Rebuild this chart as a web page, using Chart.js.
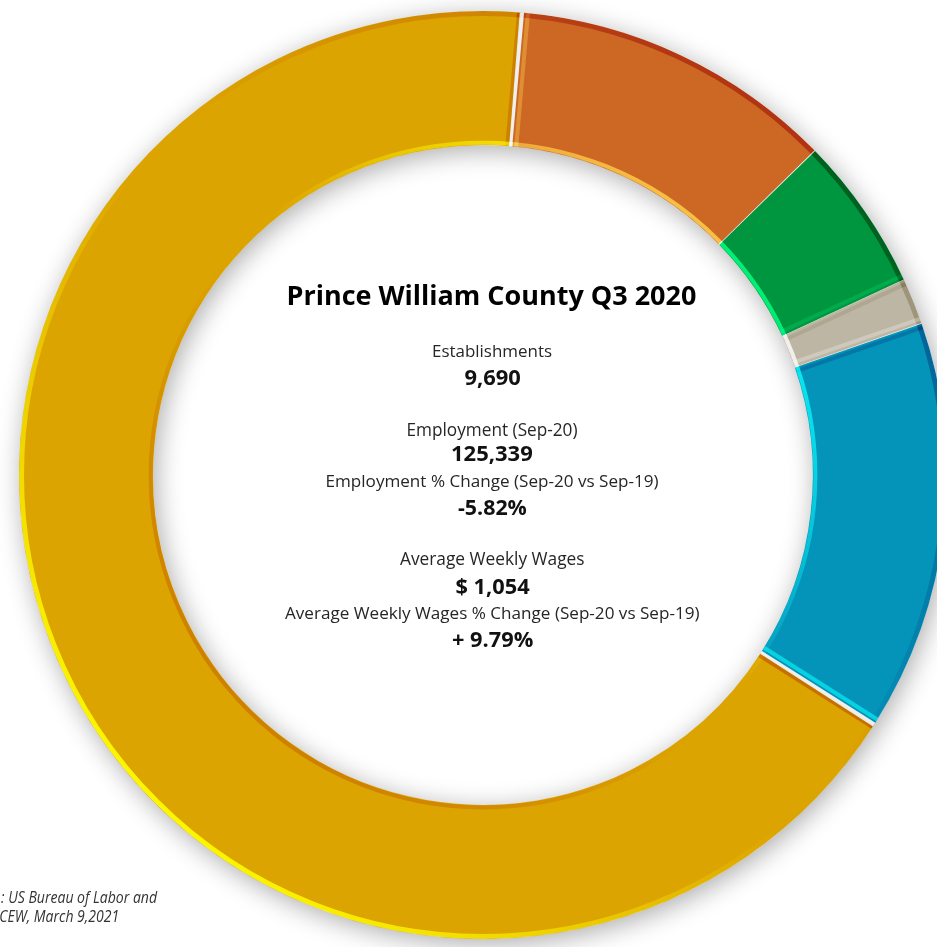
<!DOCTYPE html>
<html>
<head>
<meta charset="utf-8">
<title>Prince William County Q3 2020</title>
<script src="https://cdn.jsdelivr.net/npm/chart.js@4.4.1/dist/chart.umd.min.js"></script>
<style>
  html, body { margin: 0; padding: 0; background: #fff; overflow: hidden; }
  #wrap { position: relative; width: 937px; height: 947px; overflow: hidden; }
  #ring { position: absolute; left: 0; top: 0; }
</style>
</head>
<body>
<div id="wrap"><canvas id="ring" width="960" height="960"></canvas></div>
<script>
// slices clockwise from just right of 12 o'clock, share of the ring in %
const segments = ['Segment 1', 'Segment 2', 'Segment 3', 'Segment 4', 'Segment 5'];
const shares = [11.3, 5.4, 1.6, 14.3, 67.4];
const colors = ['#CC6724', '#00953F', '#BDB6A4', '#0494B9', '#DCA400'];

const title = 'Prince William County Q3 2020';
const statLabels = ['Establishments', 'Employment (Sep-20)', 'Employment % Change (Sep-20 vs Sep-19)',
                    'Average Weekly Wages', 'Average Weekly Wages % Change (Sep-20 vs Sep-19)'];
const statValues = ['9,690', '125,339', '-5.82%', '$ 1,054', '+ 9.79%'];
const sourceLines = [': US Bureau of Labor and', 'CEW, March 9,2021'];

// text layout inside the hole: baseline y and ink width of each line
const centerLines = [title];
statLabels.forEach((l, i) => centerLines.push(l, statValues[i]));
const lineBase = [305, 357, 385, 436, 461, 487, 515, 565, 594, 619, 647];
const lineWidth = [407, 118, 55, 169, 80, 331, 68, 184, 73, 414, 80];
const FAMILY = '"Open Sans", "Noto Sans", sans-serif';

// font size that makes the text's ink as wide as w
function fitFont(ctx, text, prefix, w) {
  ctx.font = prefix + ' 100px ' + FAMILY;
  const m = ctx.measureText(text);
  const size = 100 * w / (m.actualBoundingBoxLeft + m.actualBoundingBoxRight);
  return prefix + ' ' + size.toFixed(2) + 'px ' + FAMILY;
}

function drawInk(ctx, text, left, y) {
  const m = ctx.measureText(text);
  ctx.fillText(text, left + m.actualBoundingBoxLeft, y);
}

// light comes from the lower left
const LIGHT = [-Math.SQRT1_2, Math.SQRT1_2];

function edgeStroke(n, alpha) {
  const k = n[0] * LIGHT[0] + n[1] * LIGHT[1];
  return k > 0 ? 'rgba(255,255,255,' + (k * alpha).toFixed(3) + ')'
               : 'rgba(0,0,0,' + (-k * alpha).toFixed(3) + ')';
}

const ringFx = {
  id: 'ringFx',
  afterDatasetsDraw(chart) {
    const ctx = chart.ctx;
    const arcs = chart.getDatasetMeta(0).data;
    const half = (chart.data.datasets[0].spacing || 0) / 2;
    const x = arcs[0].x, y = arcs[0].y;
    const R = arcs[0].outerRadius + half, r = arcs[0].innerRadius + half;
    const ring = () => {
      ctx.beginPath();
      ctx.arc(x, y, R, 0, Math.PI * 2);
      ctx.arc(x, y, r, Math.PI * 2, 0, true);
    };
    ctx.save();
    // light gaps and the soft drop shadow go underneath the slices
    ctx.globalCompositeOperation = 'destination-over';
    ring(); ctx.fillStyle = '#efefef'; ctx.fill();
    ctx.shadowColor = 'rgba(0,0,0,0.33)';
    ctx.shadowBlur = 26;
    ctx.shadowOffsetX = 3;
    ctx.shadowOffsetY = 5;
    ring(); ctx.fill();
    ctx.restore();

    // bevelled edges
    ctx.save();
    ring(); ctx.clip();
    ctx.globalCompositeOperation = 'overlay';
    ctx.lineWidth = 5;
    let g = ctx.createLinearGradient(x - R * 0.7, y + R * 0.7, x + R * 0.7, y - R * 0.7);
    g.addColorStop(0, 'rgba(255,255,255,0.9)');
    g.addColorStop(0.45, 'rgba(255,255,255,0)');
    g.addColorStop(0.55, 'rgba(0,0,0,0)');
    g.addColorStop(1, 'rgba(0,0,0,0.5)');
    ctx.strokeStyle = g;
    ctx.beginPath(); ctx.arc(x, y, R - 2.5, 0, Math.PI * 2); ctx.stroke();
    ctx.lineWidth = 4;
    g = ctx.createLinearGradient(x - r * 0.7, y + r * 0.7, x + r * 0.7, y - r * 0.7);
    g.addColorStop(0, 'rgba(0,0,0,0.4)');
    g.addColorStop(0.45, 'rgba(0,0,0,0)');
    g.addColorStop(0.55, 'rgba(255,255,255,0)');
    g.addColorStop(1, 'rgba(255,255,255,0.85)');
    ctx.strokeStyle = g;
    ctx.beginPath(); ctx.arc(x, y, r + 2.5, 0, Math.PI * 2); ctx.stroke();
    // the two cut ends of every slice
    arcs.forEach(a => {
      [[a.startAngle, 1], [a.endAngle, -1]].forEach(([t, dir]) => {
        const c = Math.cos(t), s = Math.sin(t);
        const tx = -s * dir, ty = c * dir;            // into the slice
        const d = half + 3;
        ctx.strokeStyle = edgeStroke([-tx, -ty], 0.6);
        ctx.beginPath();
        ctx.moveTo(x + c * r + tx * d, y + s * r + ty * d);
        ctx.lineTo(x + c * R + tx * d, y + s * R + ty * d);
        ctx.stroke();
      });
    });
    ctx.restore();
  },
  afterDraw(chart) {
    const ctx = chart.ctx;
    const cx = chart.getDatasetMeta(0).data[0].x + 9;
    ctx.save();
    ctx.textAlign = 'left';
    ctx.textBaseline = 'alphabetic';
    centerLines.forEach((t, i) => {
      const bold = i % 2 === 0;
      ctx.font = fitFont(ctx, t, bold ? 'bold' : 'normal', lineWidth[i]);
      ctx.fillStyle = i === 0 ? '#000' : (bold ? '#111' : '#262626');
      drawInk(ctx, t, cx - lineWidth[i] / 2, lineBase[i]);
    });
    // source note, narrower type squeezed to width, cut off by the left edge
    ctx.font = 'italic 15.5px ' + FAMILY;
    const m = ctx.measureText(sourceLines[0]);
    const sx = 157 / (m.actualBoundingBoxLeft + m.actualBoundingBoxRight);
    ctx.fillStyle = '#333';
    ctx.translate(1, 0);
    ctx.scale(sx, 1);
    drawInk(ctx, sourceLines[0], 0, 903);
    drawInk(ctx, sourceLines[1], -1, 922);
    ctx.restore();
  }
};

new Chart(document.getElementById('ring'), {
  type: 'doughnut',
  data: {
    labels: segments,
    datasets: [{
      data: shares,
      backgroundColor: colors,
      borderWidth: 0,
      spacing: 3,
      hoverOffset: 0
    }]
  },
  options: {
    responsive: false,
    animation: false,
    events: [],
    rotation: 5,
    cutout: '71%',
    layout: { padding: { left: 19, top: 11, right: 13, bottom: 21 } },
    plugins: {
      legend: { display: false },
      tooltip: { enabled: false }
    }
  },
  plugins: [ringFx]
});
</script>
</body>
</html>
